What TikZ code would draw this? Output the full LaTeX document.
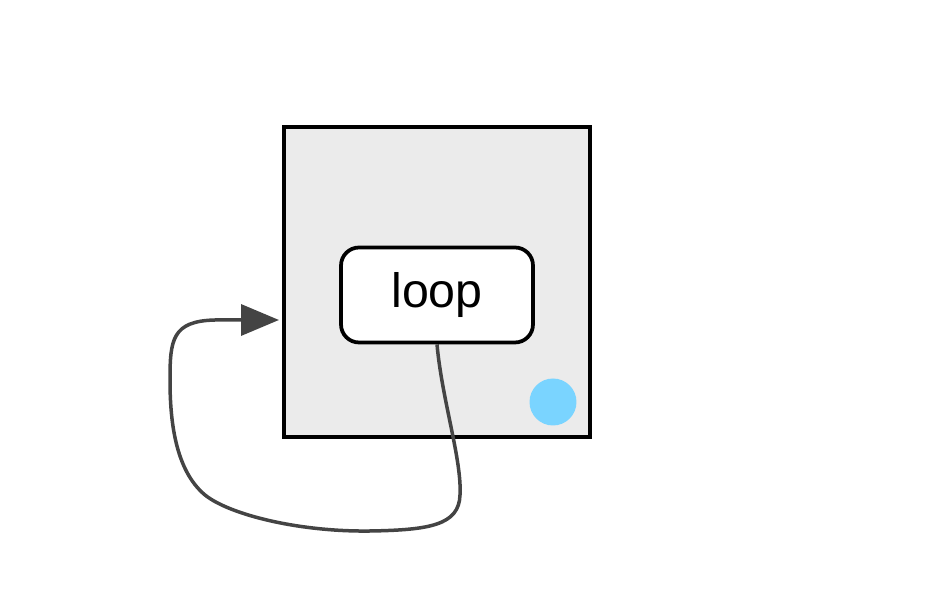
\documentclass[tikz,border=0pt]{standalone}
\usepackage{fontspec}
\setmainfont{Liberation Sans}
\usepackage{xcolor}
\usetikzlibrary{arrows.meta,positioning}
\definecolor{framegray}{HTML}{EBEBEB}
\definecolor{linkgray}{HTML}{444444}
\definecolor{dotblue}{HTML}{7AD4FF}

\begin{document}
\begin{tikzpicture}[
        x=0.02cm, y=-0.02cm,
        frame/.style={rectangle, draw, line width=0.075cm, fill=framegray, minimum width=6.12cm, minimum height=6.2cm},
        state/.style={rectangle, draw, line width=0.075cm, fill=white, rounded corners=0.36cm, minimum width=3.84cm, minimum height=1.9cm, font=\fontsize{27.5}{30}\selectfont},
        dot/.style={circle, fill=dotblue, minimum size=0.94cm, inner sep=0pt},
        arrow/.style={line width=0.07cm, color=linkgray, -{Triangle[length=0.76cm,width=0.62cm]}}
    ]
        \useasboundingbox (0,0) rectangle (944,590);

        % Frame
        \node[frame] (frame) at (437,282) {};

        % State
        \node[state] (loop) at (437,295) {loop};

        % Marker
        \node[dot] (marker) at (553,402) {};

        % Self loop
        \coordinate (entry) at (279,320);
        \draw[arrow] (loop.south) .. controls (442,400) and (462,460) .. (460,495)
            .. controls (459,525) and (430,530) .. (370,531)
            .. controls (300,532) and (230,515) .. (205,495)
            .. controls (175,470) and (170,420) .. (170,380)
            .. controls (170,340) and (172,321) .. (215,320)
            -- (entry);
    \end{tikzpicture}
\end{document}
